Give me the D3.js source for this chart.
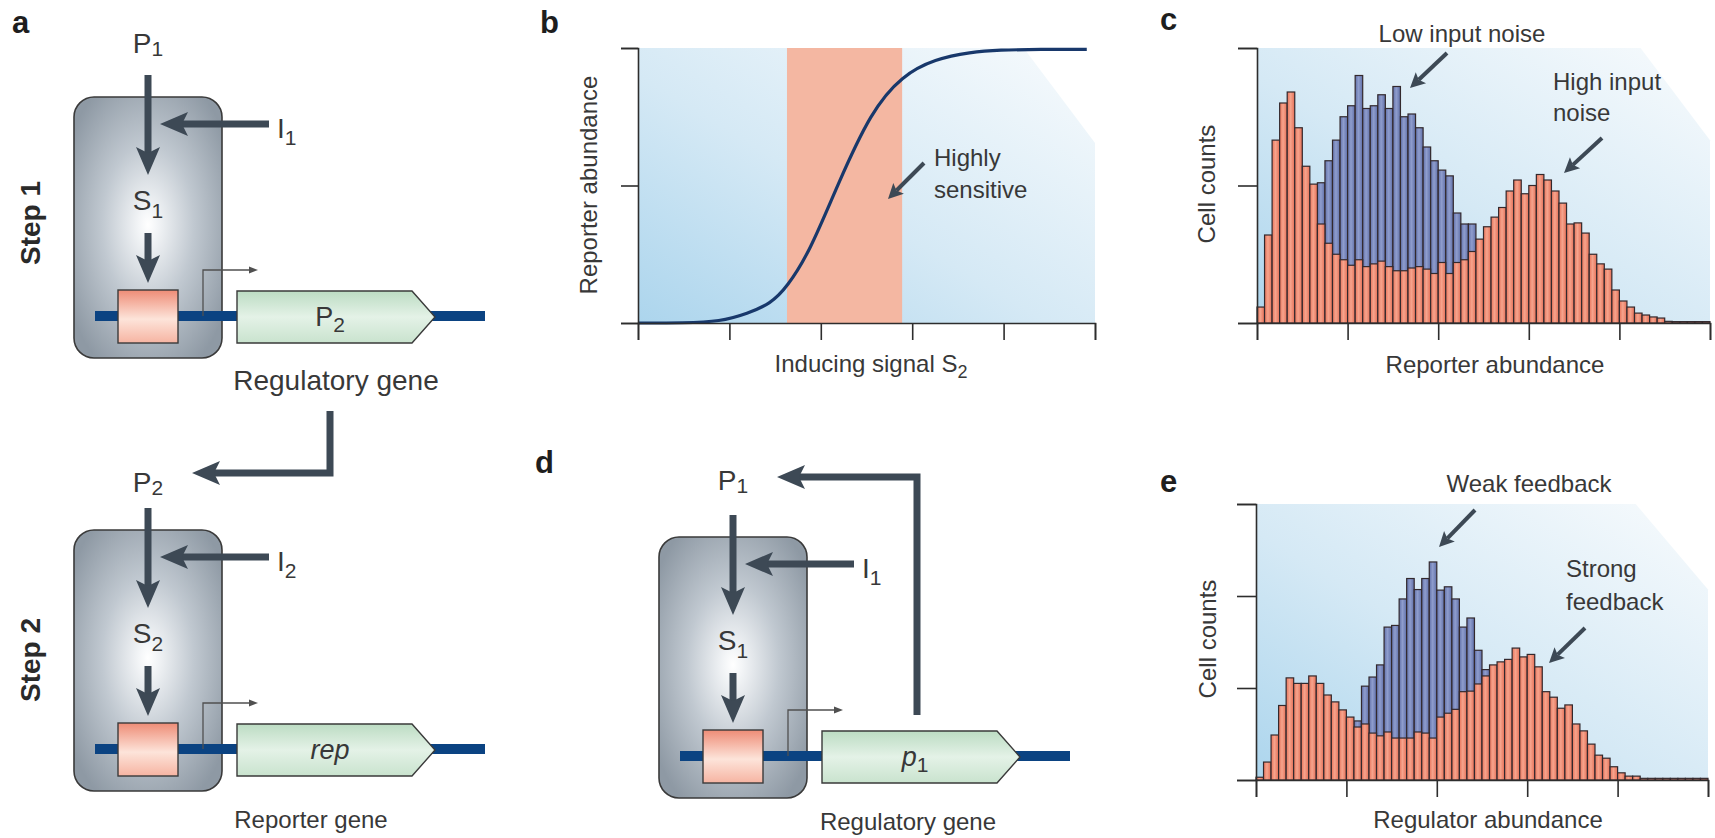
<!DOCTYPE html>
<html>
<head>
<meta charset="utf-8">
<script src="https://cdn.jsdelivr.net/npm/d3@7"></script>
<style>
  body { margin: 0; background: #fff; }
  text { font-family: "Liberation Sans", Arial, Helvetica, sans-serif; fill: #383838; }
</style>
</head>
<body>
<svg id="fig" width="1715" height="838"></svg>
<script>
// ---- data ----
const panelLabels = ['a', 'b', 'c', 'd', 'e'];
const stepLabels = ['Step 1', 'Step 2'];

// b: dose response (signal in tick units, reporter as fraction of max)
const inducingSignal = [0, 0.5, 0.9, 1.2, 1.45, 1.63, 1.88, 2.18, 2.55, 2.89, 3.25, 3.64, 3.95, 4.4, 4.91];
const reporterLevel  = [0, 0, 0.005, 0.035, 0.07, 0.13, 0.26, 0.5, 0.77, 0.9, 0.96, 0.985, 0.993, 0.995, 0.995];
const sensitiveRange = [1.63, 2.89];
const signalTicks = [0, 1, 2, 3, 4, 5];
const reporterTicks = [0, 0.5, 1];

// c, e: histograms, 60 bins, counts in % of top tick
const binTicks = [0, 12, 24, 36, 48, 60];
const countTicksC = [0, 50, 100];
const countTicksE = [0, 100 / 3, 200 / 3, 100];
const highInputNoise = [5.8, 32, 66.5, 80, 84, 71, 57, 50.5, 36, 29,
  25, 23, 21, 23, 20.5, 21.5, 22.5, 20.5, 19, 19,
  20, 20.5, 19.6, 18, 22, 18, 22, 23, 26, 30.5,
  35, 38.5, 42, 48, 52, 47, 50, 54, 52, 48,
  43.6, 36, 36.4, 32.7, 25, 21.5, 19.6, 12, 8, 5.8,
  3.6, 2.9, 2.2, 1.8, 0.6, 0.5, 0.5, 0.5, 0.5, 0.5];
const lowInputNoise = [0, 0, 0, 0, 0, 0, 0, 0, 51, 59,
  66.5, 75, 79, 90, 78, 79, 83, 78, 86, 75,
  76, 71, 64, 59, 55.6, 53.5, 40, 36, 36, 0,
  0, 0, 0, 0, 0, 0, 0, 0, 0, 0,
  0, 0, 0, 0, 0, 0, 0, 0, 0, 0,
  0, 0, 0, 0, 0, 0, 0, 0, 0, 0];
const strongFeedback = [1, 6.5, 16.3, 27, 37, 35, 35, 37.7, 35, 30.8,
  28.3, 25.4, 22.8, 19.2, 20.3, 17, 16, 17.4, 15.2, 15.2,
  15.2, 17.4, 17, 15.2, 22.8, 24.2, 25.6, 32, 32.2, 34.8,
  37.7, 41.7, 42.8, 43.7, 47.8, 44.6, 45.5, 41, 32, 30,
  26, 27.2, 20.3, 17.8, 13, 9, 7.9, 4.8, 2.6, 1.4,
  1.4, 0.6, 0.6, 0.6, 0.6, 0.6, 0.6, 0.6, 0.6, 0.6];
const weakFeedback = [0, 0, 0, 0, 0, 0, 0, 0, 0, 0,
  0, 0, 0, 21.4, 34, 37.3, 41.7, 55.4, 56, 65.6,
  73, 69, 73, 79, 68.8, 70, 65.6, 55.4, 58.7, 47,
  40, 0, 0, 0, 0, 0, 0, 0, 0, 0,
  0, 0, 0, 0, 0, 0, 0, 0, 0, 0,
  0, 0, 0, 0, 0, 0, 0, 0, 0, 0];

// ---- drawing ----
const svg = d3.select('#fig');
const defs = svg.append('defs');

function addGrad(type, id, attrs, stops) {
  const gr = defs.append(type).attr('id', id);
  Object.entries(attrs).forEach(([k, v]) => gr.attr(k, v));
  stops.forEach(s => gr.append('stop').attr('offset', s[0]).attr('stop-color', s[1]));
}
addGrad('radialGradient', 'cellGrad', {cx: 0.5, cy: 0.49, r: 0.62},
  [[0, '#ffffff'], [0.1, '#f3f5f7'], [0.5, '#c0c8d0'], [1, '#8e99a4']]);
addGrad('linearGradient', 'bindGrad', {x1: 0, y1: 0, x2: 0, y2: 1},
  [[0, '#ee8c76'], [0.55, '#fde4da'], [1, '#f6b4a2']]);
addGrad('linearGradient', 'geneGrad', {x1: 0, y1: 0, x2: 0, y2: 1},
  [[0, '#bcdcc3'], [0.5, '#e4f2e7'], [1, '#c9e3ce']]);
addGrad('linearGradient', 'plotGrad', {x1: 0, y1: 1, x2: 1, y2: 0},
  [[0, '#acd5ed'], [0.45, '#d5e9f5'], [1, '#f8fbfd']]);
addGrad('linearGradient', 'redBar', {x1: 0, y1: 0, x2: 1, y2: 0},
  [[0, '#e8735a'], [0.45, '#f6a48d'], [1, '#e56f56']]);
addGrad('linearGradient', 'blueBar', {x1: 0, y1: 0, x2: 1, y2: 0},
  [[0, '#6171aa'], [0.45, '#8f9dcd'], [1, '#5f6fa8']]);

const ink = '#3d4955';
const big = {color: ink, width: 7, head: 28, half: 12, notch: 6};
const small = {color: ink, width: 4, head: 15, half: 7.5, notch: 3};

function arrow(g, pts, o) {
  const n = pts.length, [tx, ty] = pts[n - 1], [px, py] = pts[n - 2];
  const len = Math.hypot(tx - px, ty - py), ux = (tx - px) / len, uy = (ty - py) / len;
  const vx = -uy, vy = ux;
  const bx = tx - ux * o.head, by = ty - uy * o.head;
  const nx = tx - ux * (o.head - o.notch), ny = ty - uy * (o.head - o.notch);
  g.append('path').attr('d', d3.line()(pts.slice(0, n - 1).concat([[nx, ny]])))
    .attr('fill', 'none').attr('stroke', o.color).attr('stroke-width', o.width);
  g.append('path')
    .attr('d', d3.line()([[tx, ty], [bx + vx * o.half, by + vy * o.half], [nx, ny], [bx - vx * o.half, by - vy * o.half]]) + 'Z')
    .attr('fill', o.color);
}

function label(g, x, y, main, sub, o = {}) {
  const size = o.size || 24;
  const t = g.append('text').attr('x', x).attr('y', y)
    .attr('text-anchor', o.anchor || 'start')
    .attr('font-size', size)
    .attr('font-style', o.italic ? 'italic' : null)
    .attr('font-weight', o.bold ? 'bold' : null);
  if (o.fill) t.style('fill', o.fill);
  t.append('tspan').text(main);
  if (sub) t.append('tspan').attr('font-size', o.subSize || Math.round(size * 0.75))
    .attr('font-style', 'normal').attr('dy', o.subDy || 6).text(sub);
  if (o.rotate) t.attr('transform', `rotate(-90,${x},${y})`);
  return t;
}

function drawModule(g, ox, oy, lab) {
  const m = g.append('g').attr('transform', `translate(${ox},${oy})`);
  m.append('rect').attr('x', 74).attr('y', 97).attr('width', 148).attr('height', 261).attr('rx', 20)
    .attr('fill', 'url(#cellGrad)').attr('stroke', '#3a3a3a').attr('stroke-width', 1.6);
  label(m, 148, 53 + lab.pdy, 'P', lab.p, {anchor: 'middle', size: 28, subSize: 21, subDy: 3});
  arrow(m, [[148, 75], [148, 175]], big);
  arrow(m, [[269, 124], [160, 124]], big);
  label(m, 277, 138, 'I', lab.i, {size: 28, subSize: 21, subDy: 7});
  label(m, 148, 210, 'S', lab.s, {anchor: 'middle', size: 28, subSize: 21, subDy: 8});
  arrow(m, [[148, 233], [148, 283]], big);
  m.append('line').attr('x1', 95).attr('x2', 485).attr('y1', 316).attr('y2', 316)
    .attr('stroke', '#0b4382').attr('stroke-width', 10);
  m.append('rect').attr('x', 118).attr('y', 290).attr('width', 60).attr('height', 53)
    .attr('fill', 'url(#bindGrad)').attr('stroke', '#3a3a3a').attr('stroke-width', 1.4);
  m.append('path').attr('d', 'M203,316V270H250').attr('fill', 'none')
    .attr('stroke', '#505050').attr('stroke-width', 1.3);
  m.append('path').attr('d', 'M258,270L249,266.5L249,273.5Z').attr('fill', '#505050');
  m.append('path').attr('d', 'M237,291H412L435,317L412,343H237Z')
    .attr('fill', 'url(#geneGrad)').attr('stroke', '#3a3a3a').attr('stroke-width', 1.4);
  label(m, 330, 326, lab.gene, lab.geneSub, {anchor: 'middle', size: 27, italic: lab.italic, subSize: 21, subDy: 6});
}

// panel a
const gA = svg.append('g');
label(gA, 12, 33, panelLabels[0], null, {size: 31, bold: true, fill: '#1e1e1e'});
drawModule(gA, 0, 0, {p: '1', pdy: 0, i: '1', s: '1', gene: 'P', geneSub: '2', italic: false});
drawModule(gA, 0, 433, {p: '2', pdy: 6, i: '2', s: '2', gene: 'rep', italic: true});
arrow(gA, [[330, 411], [330, 473], [192, 473]], big);
label(gA, 40, 223, stepLabels[0], null, {size: 28, bold: true, anchor: 'middle', rotate: true, fill: '#2a2a2a'});
label(gA, 40, 660, stepLabels[1], null, {size: 28, bold: true, anchor: 'middle', rotate: true, fill: '#2a2a2a'});
label(gA, 336, 390, 'Regulatory gene', null, {size: 28, anchor: 'middle'});
label(gA, 311, 828, 'Reporter gene', null, {size: 24, anchor: 'middle'});

// panel d
const gD = svg.append('g');
label(gD, 535, 473, panelLabels[3], null, {size: 31, bold: true, fill: '#1e1e1e'});
drawModule(gD, 585, 440, {p: '1', pdy: -3, i: '1', s: '1', gene: 'p', geneSub: '1', italic: true});
arrow(gD, [[917, 715], [917, 477], [777, 477]], big);
label(gD, 908, 830, 'Regulatory gene', null, {size: 24, anchor: 'middle'});

function styleAxis(sel) {
  sel.attr('color', '#2d2d2d');
  sel.selectAll('path, line').attr('stroke-width', 1.6);
}

// panel b
const xB = d3.scaleLinear().domain([0, 5]).range([638, 1095]);
const yB = d3.scaleLinear().domain([0, 1]).range([323, 48]);
const gB = svg.append('g');
gB.append('path')
  .attr('d', `M${xB(0)},${yB(0)}V${yB(1)}H${xB(4.22)}L${xB(5)},${yB(0.655)}V${yB(0)}Z`)
  .attr('fill', 'url(#plotGrad)');
gB.append('rect').attr('x', xB(sensitiveRange[0])).attr('y', yB(1))
  .attr('width', xB(sensitiveRange[1]) - xB(sensitiveRange[0])).attr('height', yB(0) - yB(1))
  .attr('fill', '#f4b7a2');
gB.append('path').datum(d3.zip(inducingSignal, reporterLevel))
  .attr('d', d3.line().x(d => xB(d[0])).y(d => yB(d[1])).curve(d3.curveBasis))
  .attr('fill', 'none').attr('stroke', '#18386b').attr('stroke-width', 3.2);
gB.append('g').attr('transform', `translate(${xB(0)},0)`)
  .call(d3.axisLeft(yB).tickValues(reporterTicks).tickSize(17).tickSizeOuter(17).tickFormat(''))
  .call(styleAxis);
gB.append('g').attr('transform', `translate(0,${yB(0)})`)
  .call(d3.axisBottom(xB).tickValues(signalTicks).tickSize(17).tickSizeOuter(17).tickFormat(''))
  .call(styleAxis);
label(gB, 540, 33, panelLabels[1], null, {size: 31, bold: true, fill: '#1e1e1e'});
label(gB, 597, 185, 'Reporter abundance', null, {anchor: 'middle', rotate: true});
label(gB, 871, 372, 'Inducing signal S', '2', {anchor: 'middle', subSize: 18, subDy: 6});
label(gB, 934, 166, 'Highly');
label(gB, 934, 198, 'sensitive');
arrow(gB, [[924, 163], [888, 199]], small);

// panels c and e
function histogram(cfg) {
  const g = svg.append('g');
  const x = d3.scaleLinear().domain([0, 60]).range(cfg.xr);
  const y = d3.scaleLinear().domain([0, 100]).range(cfg.yr);
  g.append('path')
    .attr('d', `M${x(0)},${y(0)}V${y(100)}H${x(cfg.cut[0])}L${x(60)},${y(cfg.cut[1])}V${y(0)}Z`)
    .attr('fill', 'url(#plotGrad)');
  [[cfg.back, 'url(#blueBar)'], [cfg.front, 'url(#redBar)']].forEach(([vals, fill]) => {
    g.append('g').selectAll('rect')
      .data(vals.map((v, i) => ({v, i})).filter(d => d.v > 0))
      .join('rect')
      .attr('x', d => x(d.i)).attr('width', d => x(d.i + 1) - x(d.i))
      .attr('y', d => y(d.v)).attr('height', d => y(0) - y(d.v))
      .attr('fill', fill).attr('stroke', '#33292d').attr('stroke-width', 1.2);
  });
  g.append('g').attr('transform', `translate(${x(0)},0)`)
    .call(d3.axisLeft(y).tickValues(cfg.yTicks).tickSize(19).tickSizeOuter(19).tickFormat(''))
    .call(styleAxis);
  g.append('g').attr('transform', `translate(0,${y(0)})`)
    .call(d3.axisBottom(x).tickValues(binTicks).tickSize(17).tickSizeOuter(17).tickFormat(''))
    .call(styleAxis);
  return g;
}

const gC = histogram({xr: [1257, 1710], yr: [323, 48], cut: [50.8, 66.5],
  back: lowInputNoise, front: highInputNoise, yTicks: countTicksC});
label(gC, 1160, 30, panelLabels[2], null, {size: 31, bold: true, fill: '#1e1e1e'});
label(gC, 1215, 184, 'Cell counts', null, {anchor: 'middle', rotate: true});
label(gC, 1495, 373, 'Reporter abundance', null, {anchor: 'middle'});
label(gC, 1462, 42, 'Low input noise', null, {anchor: 'middle'});
label(gC, 1553, 90, 'High input');
label(gC, 1553, 121, 'noise');
arrow(gC, [[1447, 53], [1410, 88]], small);
arrow(gC, [[1602, 138], [1564, 173]], small);

const gE = histogram({xr: [1256, 1708], yr: [780, 504], cut: [50.4, 69],
  back: weakFeedback, front: strongFeedback, yTicks: countTicksE});
label(gE, 1160, 492, panelLabels[4], null, {size: 31, bold: true, fill: '#1e1e1e'});
label(gE, 1216, 639, 'Cell counts', null, {anchor: 'middle', rotate: true});
label(gE, 1488, 828, 'Regulator abundance', null, {anchor: 'middle'});
label(gE, 1529, 492, 'Weak feedback', null, {anchor: 'middle'});
label(gE, 1566, 577, 'Strong');
label(gE, 1566, 610, 'feedback');
arrow(gE, [[1475, 510], [1439, 547]], small);
arrow(gE, [[1585, 628], [1549, 663]], small);
</script>
</body>
</html>
